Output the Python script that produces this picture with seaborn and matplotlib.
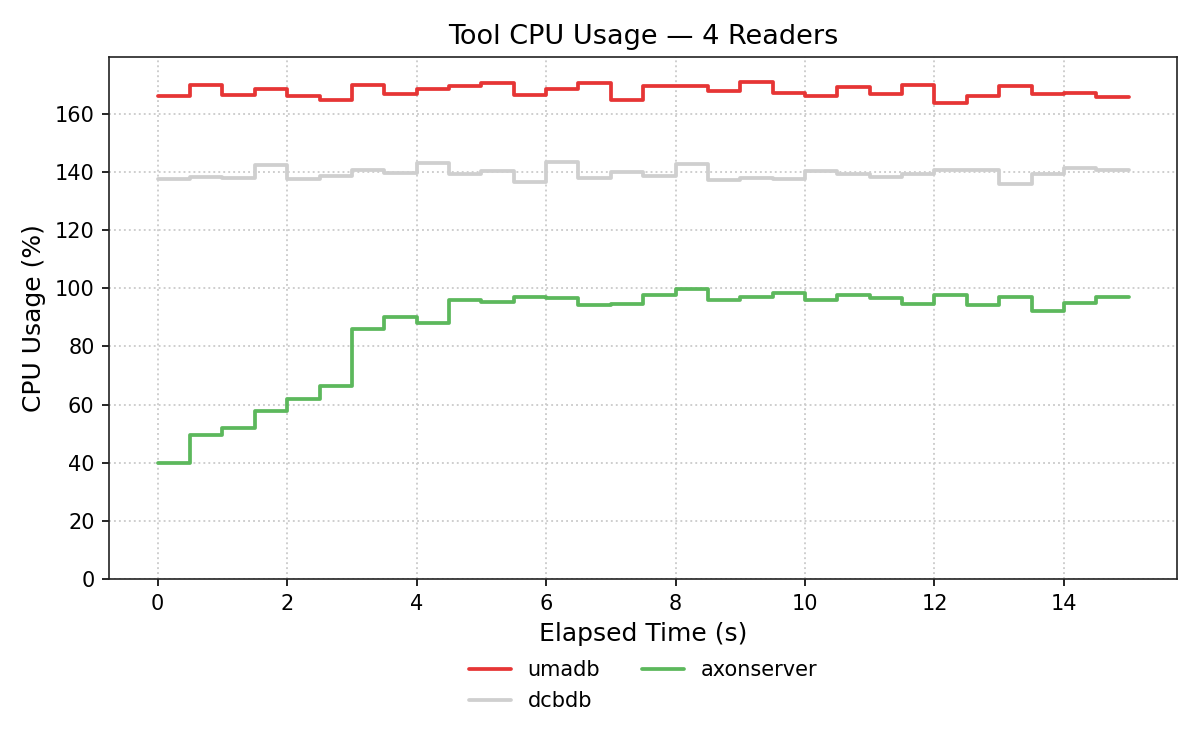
import numpy as np
import pandas as pd
import matplotlib
matplotlib.use("Agg")
import matplotlib.pyplot as plt
import seaborn as sns

# CPU usage per 0.5 s bucket
step_s = 0.5
umadb = [166.2, 169.8, 166.6, 168.4, 166.0, 164.7, 169.8, 166.9, 168.4, 169.5,
         170.5, 166.6, 168.4, 170.5, 164.7, 169.6, 169.6, 167.7, 171.0, 167.3,
         166.0, 169.2, 166.7, 169.9, 163.8, 166.2, 169.5, 166.7, 167.0, 165.9]
dcbdb = [137.6, 138.2, 137.8, 142.3, 137.6, 138.5, 140.6, 139.5, 143.1, 139.3,
         140.3, 136.4, 143.5, 137.8, 139.9, 138.6, 142.9, 137.2, 137.9, 137.5,
         140.3, 139.3, 138.3, 139.3, 140.7, 140.7, 135.7, 139.2, 141.2, 140.7]
axonserver = [39.8, 49.4, 51.9, 57.7, 62.0, 66.3, 86.1, 90.0, 88.0, 96.1,
              95.2, 96.9, 96.6, 94.3, 94.5, 97.7, 99.8, 95.9, 97.0, 98.3,
              95.9, 97.7, 96.7, 94.5, 97.7, 94.3, 97.0, 92.1, 94.9, 96.9]

series = {"umadb": umadb, "dcbdb": dcbdb, "axonserver": axonserver}
palette = {"umadb": "#e63535", "dcbdb": "#cfcfcf", "axonserver": "#5cb85c"}

# long-form frame; repeat the last value so the final step reaches the end time
rows = []
for name, vals in series.items():
    vals = list(vals) + [vals[-1]]
    for i, v in enumerate(vals):
        rows.append({"time": i * step_s, "cpu": v, "tool": name})
df = pd.DataFrame(rows)

sns.set_style("ticks", rc={
    "text.color": "black",
    "axes.labelcolor": "black",
    "xtick.color": "black",
    "ytick.color": "black",
    "axes.edgecolor": "#222222",
    "axes.linewidth": 0.9,
    "xtick.major.size": 3.5,
    "ytick.major.size": 3.5,
    "xtick.major.width": 0.9,
    "ytick.major.width": 0.9,
})
plt.rcParams["font.family"] = ["DejaVu Sans"]

fig, ax = plt.subplots(figsize=(8, 5), dpi=150)
fig.subplots_adjust(left=0.091, right=0.981, top=0.924, bottom=0.228)

sns.lineplot(data=df, x="time", y="cpu", hue="tool", palette=palette,
             hue_order=list(series), drawstyle="steps-post", linewidth=1.8,
             ax=ax)

ymax = max(max(v) for v in series.values())
ax.set_ylim(0, ymax * 1.05)
ax.set_xlim(-0.75, 15.75)
ax.grid(True, linestyle=":", color="#cccccc", linewidth=0.9)
ax.tick_params(labelsize=10)

ax.set_title("Tool CPU Usage \u2014 4 Readers", fontsize=13)
ax.set_xlabel("Elapsed Time (s)", fontsize=12)
ax.set_ylabel("CPU Usage (%)", fontsize=12)

ax.legend(loc="upper center", bbox_to_anchor=(0.5, -0.12), ncol=2,
          frameon=False, fontsize=10, columnspacing=2.0, handlelength=2.0)

fig.savefig("out.png", dpi=150)
